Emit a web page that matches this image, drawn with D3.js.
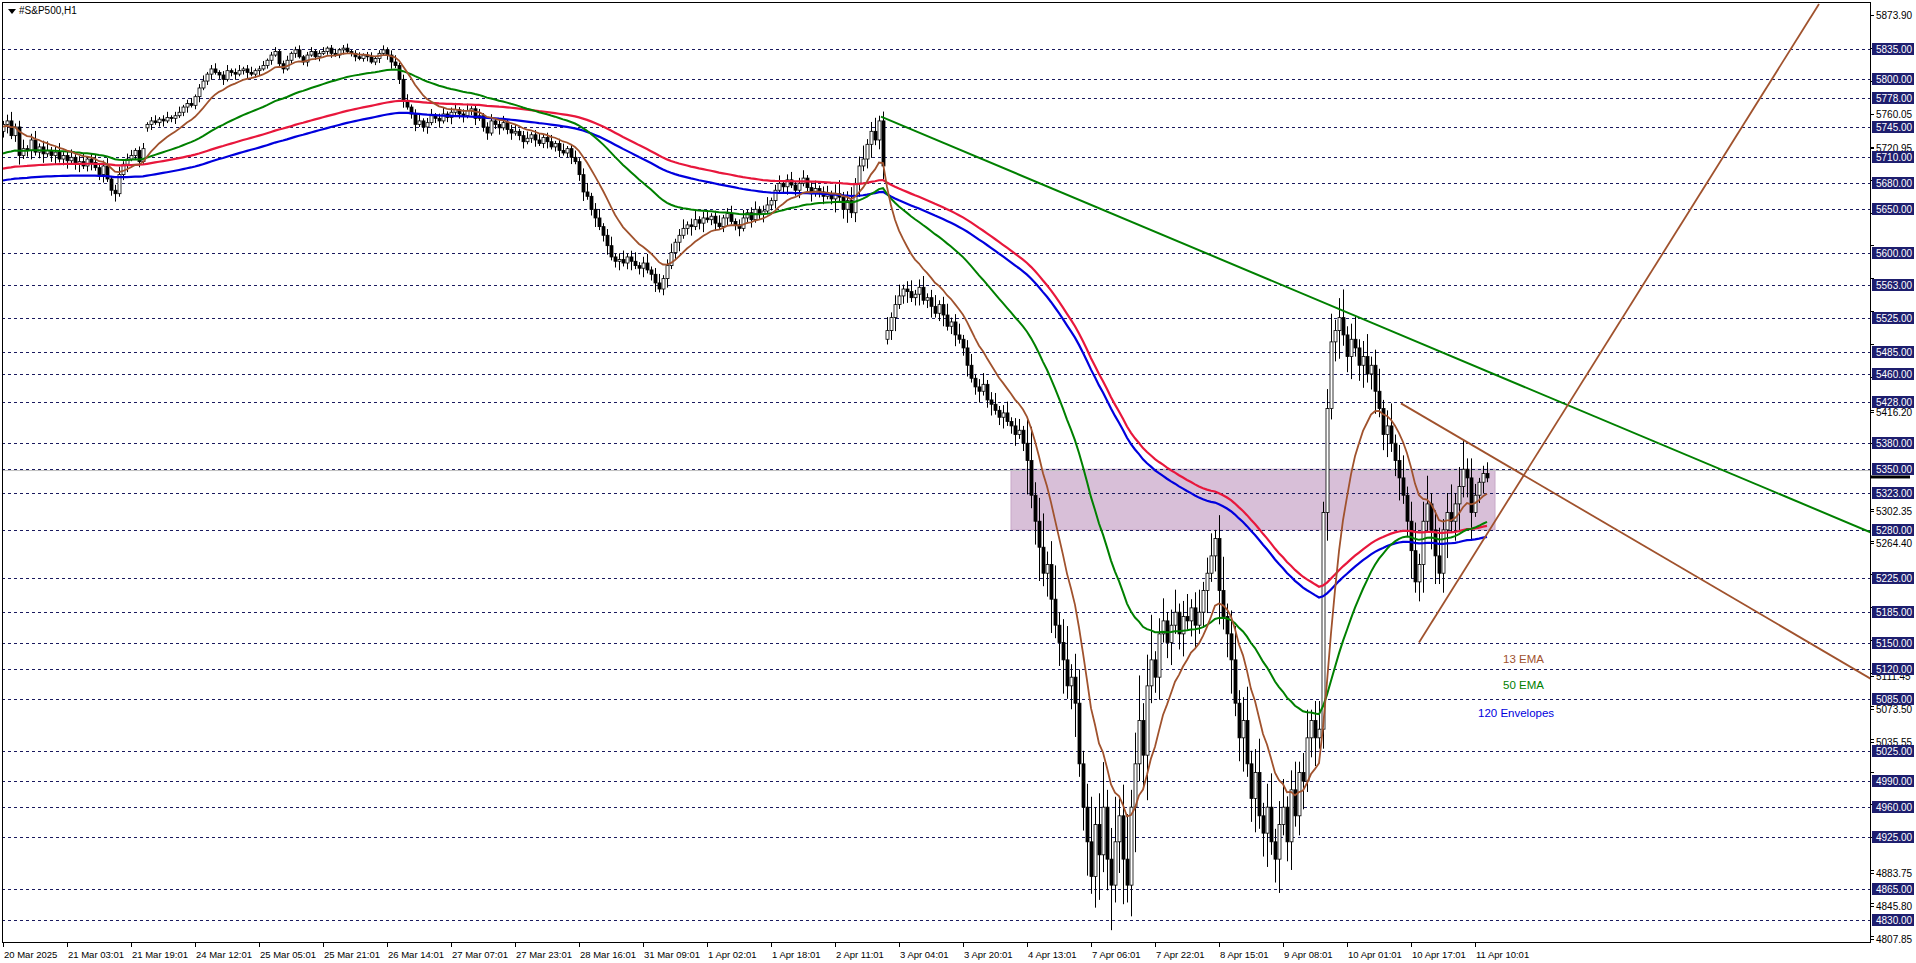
<!DOCTYPE html>
<html>
<head>
<meta charset="utf-8">
<script src="https://cdn.jsdelivr.net/npm/d3@7"></script>
<style>
  body { margin: 0; background: #fff; }
  svg { display: block; font-family: "Liberation Sans", Arial, sans-serif; }
</style>
</head>
<body>
<div id="chart"></div>
<script>
// hourly closes, 16 bars per time label
let closes = [
  5748,5752,5735,5745,5712,5720,5718,5730,5716,5722,5714,5718,5712,5716,5708,5712,
  5706,5710,5702,5705,5700,5708,5704,5698,5690,5700,5685,5672,5668,5690,5702,5708,
  5712,5718,5705,5720,5748,5752,5750,5754,5752,5756,5755,5758,5762,5768,5772,5770,
  5780,5790,5798,5806,5812,5808,5805,5800,5810,5808,5806,5810,5812,5808,5806,5810,
  5812,5816,5822,5828,5832,5818,5812,5822,5830,5834,5826,5820,5828,5832,5826,5830,
  5832,5836,5830,5828,5834,5836,5832,5830,5826,5824,5828,5826,5820,5824,5830,5834,
  5828,5820,5816,5800,5775,5768,5760,5748,5752,5745,5750,5758,5755,5752,5760,5756,
  5762,5765,5760,5758,5764,5766,5755,5758,5745,5738,5752,5748,5744,5750,5742,5738,
  5740,5735,5728,5732,5736,5730,5726,5733,5728,5722,5726,5718,5715,5720,5710,5705,
  5690,5670,5665,5650,5640,5630,5620,5608,5595,5590,5592,5588,5595,5590,5585,5582,
  5588,5580,5575,5565,5558,5570,5585,5600,5612,5620,5628,5632,5630,5638,5634,5640,
  5638,5642,5634,5630,5640,5645,5636,5632,5628,5640,5646,5638,5650,5644,5648,5655,
  5660,5672,5680,5676,5684,5678,5672,5680,5686,5675,5668,5674,5670,5665,5668,5662,
  5668,5664,5650,5660,5646,5680,5700,5708,5725,5740,5730,5752,5700,5510,5525,5540,
  5550,5558,5555,5548,5552,5560,5545,5548,5538,5530,5540,5528,5515,5520,5505,5500,
  5490,5470,5455,5445,5440,5448,5430,5425,5418,5410,5415,5405,5400,5390,5395,5380,
  5360,5320,5290,5260,5230,5240,5200,5170,5150,5130,5100,5110,5080,5010,4960,4920,
  4880,4940,4905,4960,4900,4870,4920,4950,4900,4870,4960,5010,5060,5020,5100,5130,
  5110,5160,5175,5150,5170,5185,5160,5180,5175,5190,5170,5185,5210,5230,5250,5270,
  5210,5180,5160,5130,5080,5040,5060,5010,4970,5000,4950,4930,4960,4920,4900,4940,
  4960,4920,4980,4950,5000,4990,5040,5060,5040,5050,5300,5420,5497,5510,5525,5505,
  5480,5500,5490,5470,5480,5460,5470,5440,5420,5390,5400,5380,5360,5340,5320,5290,
  5256,5220,5240,5290,5310,5280,5250,5230,5280,5300,5290,5310,5330,5350,5340,5300,
  5320,5335,5345,5340
];
let firstOpen = 5740;
// session gaps: bar index -> opening price
let gapOpens = {36: 5744, 221: 5500};
// typical wick length per 16-bar block
let wicks = [8,7,5,5,4,4,6,6,6,8,8,7,7,12,10,10,30,40,20,30,25,20,25,10];

let timeLabels = ["20 Mar 2025","21 Mar 03:01","21 Mar 19:01","24 Mar 12:01","25 Mar 05:01","25 Mar 21:01",
  "26 Mar 14:01","27 Mar 07:01","27 Mar 23:01","28 Mar 16:01","31 Mar 09:01","1 Apr 02:01","1 Apr 18:01",
  "2 Apr 11:01","3 Apr 04:01","3 Apr 20:01","4 Apr 13:01","7 Apr 06:01","7 Apr 22:01","8 Apr 15:01",
  "9 Apr 08:01","10 Apr 01:01","10 Apr 17:01","11 Apr 10:01"];

let levels = [5835,5800,5778,5745,5710,5680,5650,5600,5563,5525,5485,5460,5428,5380,5350,5323,
  5280,5225,5185,5150,5120,5085,5025,4990,4960,4925,4865,4830];
let scaleTicks = [5873.90,5835.95,5798.00,5760.05,5722.10,5684.15,5646.20,5608.25,5570.30,5532.35,
  5494.40,5456.45,5418.50,5380.55,5342.60,5304.65,5266.70,5228.75,5190.80,5152.85,5114.90,5076.95,
  5039.00,5001.05,4963.10,4925.15,4887.20,4849.25,4811.30];
let shownTicks = [5873.90,5760.05,5720.95,5416.20,5302.35,5264.40,5111.45,5073.50,5035.55,4883.75,4845.80,4807.85];
let lastPrice = 5340.5;

// moving averages; envelope = lower band of the 120 average
let emaSpecs = [
  {period: 120, seed: 5696, envelope: -0.0024, color: "#0000dd", width: 2.2},
  {period: 120, seed: 5696, envelope: 0, color: "#e8173c", width: 2.2},
  {period: 50, seed: 5713, envelope: 0, color: "#008000", width: 2},
  {period: 13, seed: 5745, envelope: 0, color: "#a0522d", width: 1.8}
];
let zone = {from: 252, to: 373, hi: 5350, lo: 5280};
let trendlines = [
  {x1: 219.5, p1: 5757, x2: 467, p2: 5277, color: "#008000", width: 2},
  {x1: 349.5, p1: 5426, x2: 467, p2: 5108, color: "#a0522d", width: 1.8},
  {x1: 354, p1: 5150, x2: 454, p2: 5887, color: "#a0522d", width: 1.8}
];
let legend = [
  {text: "13 EMA", color: "#a0522d", x: 1503, y: 663},
  {text: "50 EMA", color: "#008000", x: 1503, y: 689},
  {text: "120 Envelopes", color: "#0000dd", x: 1478, y: 717}
];

const W = 1916, H = 963;
const plotL = 2, plotR = 1870, plotT = 2, plotB = 942;

let bars = closes.map((c, i) => {
  let o = i in gapOpens ? gapOpens[i] : (i === 0 ? firstOpen : closes[i - 1]);
  let w = wicks[Math.floor(i / 16)];
  return {i, o, c, h: Math.max(o, c) + w * (0.5 + (i % 3) * 0.4), l: Math.min(o, c) - w * (0.5 + ((i + 1) % 3) * 0.4)};
});

let x = d3.scaleLinear().domain([0, 1]).range([3, 7]);
let y = d3.scaleLinear().domain([5835, 4830]).range([49, 919.8]);

let svg = d3.select("#chart").append("svg").attr("width", W).attr("height", H);
svg.append("defs").append("clipPath").attr("id", "plot").append("rect")
  .attr("x", plotL).attr("y", plotT).attr("width", plotR - plotL).attr("height", plotB - plotT);

let g = svg.append("g").attr("clip-path", "url(#plot)");

// zone
g.append("rect")
  .attr("x", x(zone.from)).attr("width", x(zone.to) - x(zone.from))
  .attr("y", y(zone.hi)).attr("height", y(zone.lo) - y(zone.hi))
  .attr("fill", "#d8bfd8").attr("stroke", "#c8a8c8");

// dashed levels
g.selectAll(".lvl").data(levels).enter().append("line")
  .attr("x1", plotL).attr("x2", plotR)
  .attr("y1", d => Math.round(y(d)) + 0.5).attr("y2", d => Math.round(y(d)) + 0.5)
  .attr("stroke", "#1a1a5e").attr("stroke-width", 1).attr("stroke-dasharray", "3,3");

// current price line
g.append("line").attr("x1", plotL).attr("x2", plotR)
  .attr("y1", y(lastPrice + 8)).attr("y2", y(lastPrice + 8))
  .attr("stroke", "#c0c0c0");

// candles
let cg = g.append("g");
bars.forEach(b => {
  let cx = Math.round(x(b.i)) + 0.5;
  cg.append("line").attr("x1", cx).attr("x2", cx).attr("y1", y(b.h)).attr("y2", y(b.l))
    .attr("stroke", "#000");
  let top = y(Math.max(b.o, b.c)), bot = y(Math.min(b.o, b.c));
  cg.append("rect").attr("x", cx - 1.5).attr("width", 3)
    .attr("y", top).attr("height", Math.max(1, bot - top))
    .attr("fill", b.c >= b.o ? "#fff" : "#000").attr("stroke", "#000").attr("stroke-width", 0.8);
});

// moving averages
let line = d3.line().x((d, i) => x(i)).y(d => y(d));
emaSpecs.forEach(s => {
  let k = 2 / (s.period + 1), v = s.seed;
  let vals = closes.map(c => (v = v + k * (c - v)) * (1 + s.envelope));
  g.append("path").datum(vals).attr("d", line).attr("fill", "none")
    .attr("stroke", s.color).attr("stroke-width", s.width);
});

// trendlines
g.selectAll(".tl").data(trendlines).enter().append("line")
  .attr("x1", d => x(d.x1)).attr("y1", d => y(d.p1))
  .attr("x2", d => x(d.x2)).attr("y2", d => y(d.p2))
  .attr("stroke", d => d.color).attr("stroke-width", d => d.width);

// legend texts
g.selectAll(".lg").data(legend).enter().append("text")
  .attr("x", d => d.x).attr("y", d => d.y).attr("fill", d => d.color)
  .attr("font-size", 11.5).text(d => d.text);

// frame
svg.append("rect").attr("x", plotL + 0.5).attr("y", plotT + 0.5)
  .attr("width", plotR - plotL).attr("height", plotB - plotT)
  .attr("fill", "none").attr("stroke", "#000");

// right price scale
let ax = svg.append("g").attr("font-size", 10);
ax.selectAll(".tk").data(scaleTicks.concat(shownTicks)).enter().append("line")
  .attr("x1", plotR).attr("x2", plotR + 4)
  .attr("y1", d => Math.round(y(d)) + 0.5).attr("y2", d => Math.round(y(d)) + 0.5).attr("stroke", "#000");
ax.selectAll(".tt").data(shownTicks).enter().append("text")
  .attr("x", plotR + 6).attr("y", d => y(d) + 4).text(d => d.toFixed(2));
let lv = ax.selectAll(".lv").data(levels).enter().append("g")
  .attr("transform", d => "translate(" + (plotR + 2) + "," + (Math.round(y(d)) - 6) + ")");
lv.append("rect").attr("width", 42).attr("height", 12).attr("fill", "#1e1e6e");
lv.append("text").attr("x", 4).attr("y", 10).attr("fill", "#fff").text(d => d.toFixed(2));
ax.append("rect").attr("x", plotR).attr("y", y(lastPrice) - 2).attr("width", 40).attr("height", 3).attr("fill", "#000");

// time axis
let tx = svg.append("g").attr("font-size", 9.5);
tx.selectAll(".tl").data(timeLabels).enter().append("line")
  .attr("x1", (d, i) => Math.round(x(i * 16)) + 0.5).attr("x2", (d, i) => Math.round(x(i * 16)) + 0.5)
  .attr("y1", plotB).attr("y2", plotB + 5).attr("stroke", "#000");
tx.selectAll(".tlt").data(timeLabels).enter().append("text")
  .attr("x", (d, i) => x(i * 16) + 1).attr("y", plotB + 16).text(d => d);

// title
svg.append("path").attr("d", "M8,9 L16,9 L12,14 Z").attr("fill", "#000");
svg.append("text").attr("x", 19).attr("y", 14).attr("font-size", 10).text("#S&P500,H1");
</script>
</body>
</html>
